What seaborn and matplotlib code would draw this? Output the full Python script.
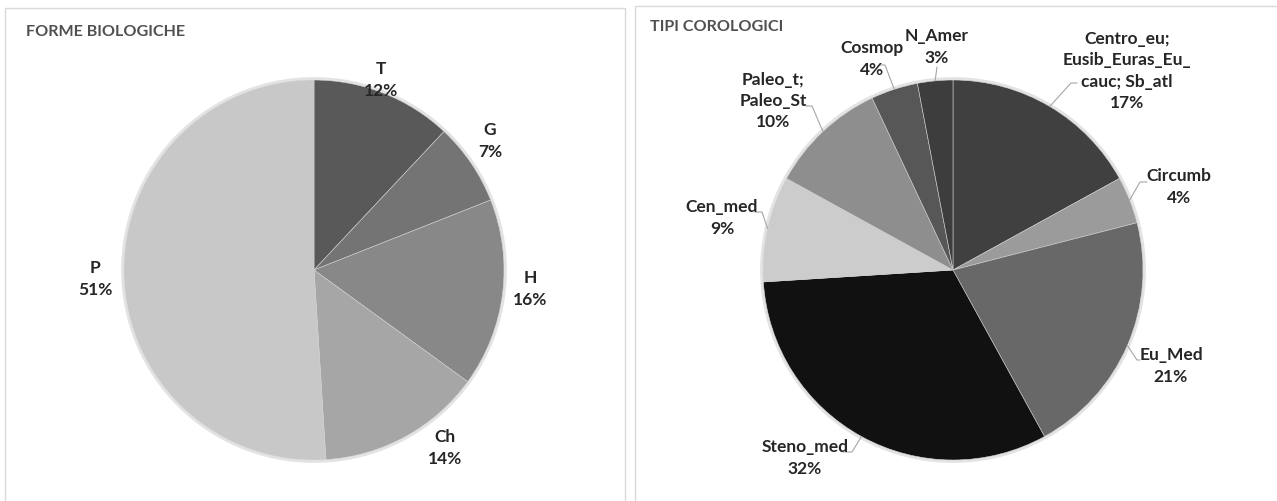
import numpy as np
import matplotlib

matplotlib.use("Agg")
import matplotlib.pyplot as plt
import seaborn as sns
from matplotlib.patches import Rectangle, Circle

# --- dati -----------------------------------------------------------------
forme_labels = ["T", "G", "H", "Ch", "P"]
forme_values = [12, 7, 16, 14, 51]
forme_colors = ["#595959", "#747474", "#888888", "#a6a6a6", "#c8c8c8"]

coro_labels = ["Centro_eu;\nEusib_Euras_Eu_\ncauc; Sb_atl", "Circumb", "Eu_Med",
               "Steno_med", "Cen_med", "Paleo_t;\nPaleo_St", "Cosmop", "N_Amer"]
coro_values = [17, 4, 21, 32, 9, 10, 4, 3]
coro_colors = ["#404040", "#9b9b9b", "#686868", "#111111", "#cccccc",
               "#8e8e8e", "#575757", "#3d3d3d"]

# --- layout (pixel del riferimento) -----------------------------------------
W, H = 1277, 501
R = 190.0
left_center = (314, 270)
right_center = (953, 270)
left_label_px = [(381, 80), (490, 141), (530, 289), (445, 448), (95, 279)]
right_label_px = [(1127, 71), (1179, 187), (1171, 366), (805, 458),
                  (722, 218), (773, 101), (872, 59), (937, 47)]
# gomito e fine orizzontale delle linee guida (pixel)
right_elbow_px = [(1071, 83, 1077), (1140, 182, 1147), (1137, 360, 1140),
                  (852, 452, 843), (762, 212, 755), (812, 106, 806),
                  (885, 65, 880), (937, 67, 937)]

sns.set_theme(style="white")
plt.rcParams["font.family"] = ["Lato", "DejaVu Sans"]

TXT = "#262626"
LABEL_FS = 12.5
fig = plt.figure(figsize=(W / 100, H / 100), dpi=100)

# bordi dei pannelli
for x0, x1, y0 in [(5, 625, 8), (635, 1290, 6)]:
    fig.patches.append(Rectangle((x0 / W, -0.1), (x1 - x0) / W, (H - y0) / H + 0.1,
                                 transform=fig.transFigure, fill=False,
                                 edgecolor="#d9d9d9", linewidth=1.0))


def fix_limits(ax, x0, x1, center):
    cx, cy = center
    ax.set_xlim(-(cx - x0) / R, (x1 - cx) / R)
    ax.set_ylim(-(H - cy) / R, cy / R)
    ax.set_axis_off()


def to_units(p, center):
    return ((p[0] - center[0]) / R, (center[1] - p[1]) / R)


def draw_pie(ax, values, colors):
    # leggera ombra attorno alla torta
    ax.add_patch(Circle((0, 0), 1.008, facecolor="none", edgecolor="#c8c8c8",
                        linewidth=2.0, alpha=0.5, zorder=0))
    wedges, _ = ax.pie(values, colors=colors, startangle=90, counterclock=False,
                       radius=1, center=(0, 0), frame=True,
                       wedgeprops=dict(edgecolor="#d0d0d0", linewidth=0.4))
    return wedges


# --- FORME BIOLOGICHE -----------------------------------------------------
ax1 = fig.add_axes([0, 0, 630 / W, 1])
draw_pie(ax1, forme_values, forme_colors)
fix_limits(ax1, 0, 630, left_center)
tot = sum(forme_values)
for lab, v, p in zip(forme_labels, forme_values, left_label_px):
    x, y = to_units(p, left_center)
    ax1.text(x, y, f"{lab}\n{round(100 * v / tot)}%", ha="center", va="center",
             fontsize=LABEL_FS, fontweight="bold", color=TXT, linespacing=1.4)
fig.text(26 / W, 1 - 32 / H, "FORME BIOLOGICHE", ha="left", va="center",
         fontsize=11.6, fontweight="bold", color="#505050")

# --- TIPI COROLOGICI ------------------------------------------------------
ax2 = fig.add_axes([635 / W, 0, (W - 635) / W, 1])
wedges = draw_pie(ax2, coro_values, coro_colors)
fix_limits(ax2, 635, W, right_center)
tot = sum(coro_values)
for w, lab, v, p, el in zip(wedges, coro_labels, coro_values, right_label_px,
                            right_elbow_px):
    x, y = to_units(p, right_center)
    ax2.text(x, y, f"{lab}\n{round(100 * v / tot)}%", ha="center", va="center",
             fontsize=LABEL_FS, fontweight="bold", color=TXT, linespacing=1.4,
             multialignment="center")
    mid = np.deg2rad((w.theta1 + w.theta2) / 2)
    ex, ey = to_units(el[:2], right_center)
    hx, _ = to_units((el[2], el[1]), right_center)
    ax2.plot([np.cos(mid), ex, hx], [np.sin(mid), ey, ey], color="#a6a6a6",
             linewidth=0.8)
fig.text(650 / W, 1 - 27 / H, "TIPI COROLOGICI", ha="left", va="center",
         fontsize=11.6, fontweight="bold", color="#505050")

fig.savefig("out.png", dpi=100)
